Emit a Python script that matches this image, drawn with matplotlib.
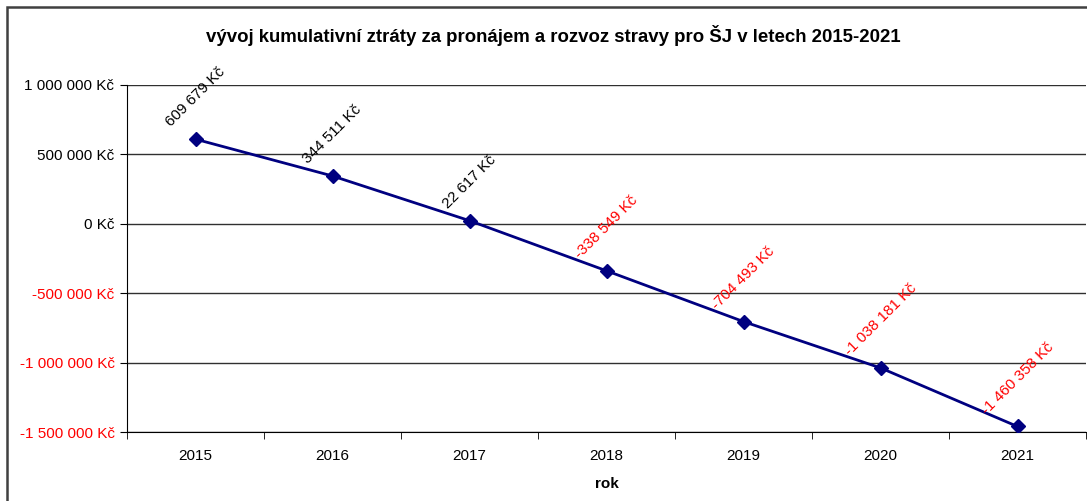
import matplotlib
matplotlib.use("Agg")
import matplotlib.pyplot as plt
import matplotlib.patches as mpatches
from matplotlib.ticker import FuncFormatter, FixedLocator

plt.rcParams['font.family'] = ['Liberation Sans', 'DejaVu Sans']

years = ['2015', '2016', '2017', '2018', '2019', '2020', '2021']
loss = [609679, 344511, 22617, -338549, -704493, -1038181, -1460358]
y_ticks = [1000000, 500000, 0, -500000, -1000000, -1500000]


def kc(v):
    return f"{v:,.0f}".replace(',', ' ') + " Kč"


fig = plt.figure(figsize=(10.87, 5.01), dpi=100)
ax = fig.add_axes([127 / 1087, 69 / 501, 959 / 1087, 347 / 501])

xs = list(range(len(years)))
ax.plot(xs, loss, color='#000080', lw=2, marker='D', ms=7, zorder=3)

for x, v in zip(xs, loss):
    ax.annotate(kc(v), (x, v), xytext=(0, 7), textcoords='offset points',
                rotation=45, ha='center', va='bottom', fontsize=11,
                color='black' if v >= 0 else 'red')

ax.set_xlim(-0.5, len(years) - 0.5)
ax.set_ylim(-1500000, 1000000)
ax.set_yticks(y_ticks)
ax.yaxis.set_major_formatter(FuncFormatter(lambda v, p: kc(v)))
for lab, v in zip(ax.get_yticklabels(), ax.get_yticks()):
    lab.set_color('black' if v >= 0 else 'red')
ax.yaxis.grid(True, color='#303030', lw=1)
ax.set_axisbelow(True)

ax.set_xticks(xs)
ax.set_xticklabels(years)
ax.xaxis.set_minor_locator(FixedLocator([i - 0.5 for i in range(len(years) + 1)]))
ax.tick_params(axis='x', which='major', length=0, pad=12, labelsize=11)
ax.tick_params(axis='x', which='minor', length=5, direction='out')
ax.tick_params(axis='y', length=5, direction='out', labelsize=11, pad=4)

for s in ['top', 'right']:
    ax.spines[s].set_visible(False)
ax.spines['left'].set_color('black')
ax.spines['bottom'].set_color('black')

ax.set_xlabel('rok', fontweight='bold', fontsize=11, labelpad=10)
fig.text(553 / 1087, 1 - 36 / 501,
         'vývoj kumulativní ztráty za pronájem a rozvoz stravy pro ŠJ v letech 2015-2021',
         ha='center', va='center', fontweight='bold', fontsize=13.4)

fig.patches.append(mpatches.Rectangle((6.5 / 1087, -0.1), 1.2, (501 - 6.5) / 501 + 0.1,
                                      transform=fig.transFigure, fill=False,
                                      lw=1.8, edgecolor='#404040'))

fig.savefig('out.png', dpi=100)
